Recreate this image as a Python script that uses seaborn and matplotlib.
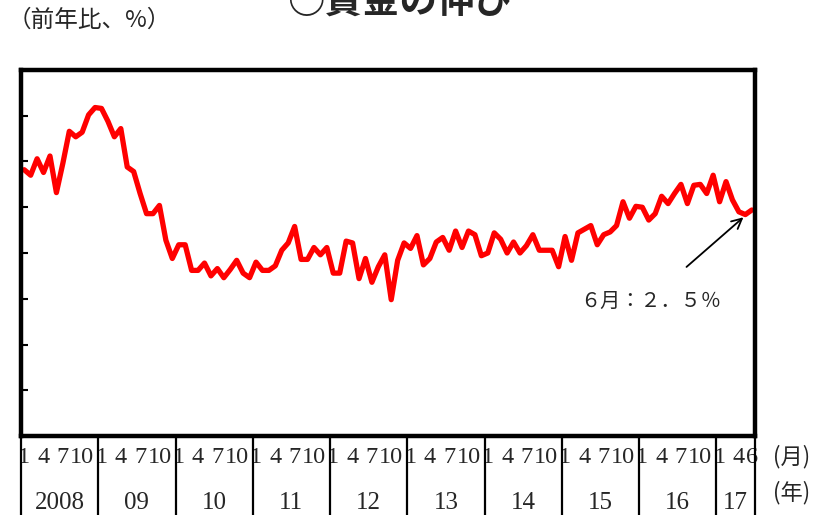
import matplotlib
matplotlib.use('Agg')
import matplotlib.pyplot as plt
import matplotlib.transforms as mtransforms
import pandas as pd
import seaborn as sns

# year-on-year wage growth (%), monthly, Jan 2008 - Jun 2017
wage_yoy = [
    2.91, 2.85, 3.03, 2.88, 3.06, 2.66, 2.98, 3.33, 3.27, 3.32, 3.51, 3.59,  # 2008
    3.58, 3.44, 3.27, 3.36, 2.94, 2.89, 2.65, 2.43, 2.43, 2.52, 2.14, 1.94,  # 2009
    2.09, 2.09, 1.81, 1.81, 1.89, 1.75, 1.83, 1.73, 1.82, 1.92, 1.78, 1.73,  # 2010
    1.90, 1.81, 1.81, 1.86, 2.03, 2.11, 2.29, 1.93, 1.93, 2.06, 1.98, 2.06,  # 2011
    1.78, 1.78, 2.13, 2.11, 1.72, 1.94, 1.68, 1.85, 1.98, 1.49, 1.92, 2.11,  # 2012
    2.05, 2.19, 1.87, 1.94, 2.12, 2.17, 2.03, 2.24, 2.06, 2.24, 2.20, 1.97,  # 2013
    2.00, 2.22, 2.15, 2.00, 2.12, 2.00, 2.08, 2.20, 2.03, 2.03, 2.03, 1.85,  # 2014
    2.18, 1.92, 2.22, 2.26, 2.30, 2.09, 2.20, 2.23, 2.30, 2.56, 2.38, 2.51,  # 2015
    2.50, 2.36, 2.43, 2.62, 2.54, 2.65, 2.75, 2.54, 2.74, 2.75, 2.65, 2.85,  # 2016
    2.56, 2.78, 2.58, 2.45, 2.42, 2.47,                                      # 2017
]
year_labels = ['2008', '09', '10', '11', '12', '13', '14', '15', '16', '17']
month_labels = ['1', '4', '7', '10']
last_month_labels = ['1', '4', '6']
y_ticks = [0.5, 1.0, 1.5, 2.0, 2.5, 3.0, 3.5]

df = pd.DataFrame({'month': range(len(wage_yoy)), 'wage': wage_yoy})

sns.set_style('white')
plt.rcParams['font.family'] = ['Noto Sans CJK JP', 'DejaVu Sans']

fig = plt.figure(figsize=(8.37, 5.15), dpi=100)
ax = fig.add_axes([21 / 837, 79 / 515, 734 / 837, 366 / 515])

sns.lineplot(data=df, x='month', y='wage', color='#ff0000', linewidth=3.8, ax=ax)

n = len(wage_yoy)
ax.set_xlim(-0.5, n - 0.5)
ax.set_ylim(0, 4)
ax.set_yticks(y_ticks)
ax.set_yticklabels([])
ax.tick_params(axis='y', direction='in', length=5, width=1.5, color='black', left=True)
ax.set_xlabel('')
ax.set_ylabel('')
for s in ax.spines.values():
    s.set_linewidth(3.2)
    s.set_color('black')

# month tick labels
tick_pos, tick_lab = [], []
for k in range(len(year_labels)):
    labs = month_labels if k < len(year_labels) - 1 else last_month_labels
    offs = [0, 3, 6, 9] if k < len(year_labels) - 1 else [0, 3, 5]
    for o, lab in zip(offs, labs):
        tick_pos.append(12 * k + o)
        tick_lab.append(lab)
ax.set_xticks(tick_pos)
ax.set_xticklabels(tick_lab, fontfamily='Liberation Serif', fontsize=17.5)
ax.tick_params(axis='x', length=0, pad=8)

# year separators and year labels
trans = mtransforms.blended_transform_factory(ax.transData, ax.transAxes)
bounds = [-0.5] + [12 * k - 0.5 for k in range(1, len(year_labels))] + [n - 0.5]
for b in bounds:
    ax.plot([b, b], [0, -0.23], transform=trans, color='black', lw=1.6, clip_on=False)
for k, lab in enumerate(year_labels):
    mid = (bounds[k] + bounds[k + 1]) / 2
    ax.text(mid, -0.183, lab, transform=trans, ha='center', va='center',
            fontfamily='Liberation Serif', fontsize=18)

fig.text(792 / 837, 1 - 457 / 515, '(月)', ha='center', va='center', fontsize=16)
fig.text(792 / 837, 1 - 493 / 515, '(年)', ha='center', va='center', fontsize=16)

# annotation for the latest month
last = (df['month'].iloc[-1], df['wage'].iloc[-1])
ax.annotate('', xy=last, xytext=(-47, -41), textcoords='offset points',
            arrowprops=dict(arrowstyle='->', lw=1.3, color='black',
                            shrinkA=0, shrinkB=8, mutation_scale=18))
ax.annotate('６月：２．５％', xy=last, xytext=(-73, -66), textcoords='offset points',
            ha='center', va='center', fontsize=14.5)

fig.text(8 / 837, 1 - 20 / 515, '（前年比、%）', ha='left', va='center', fontsize=17)
fig.text(400 / 837, 0.998, '○賃金の伸び', ha='center', va='center',
         fontsize=27, fontweight='bold')

fig.savefig('out.png', dpi=100)
